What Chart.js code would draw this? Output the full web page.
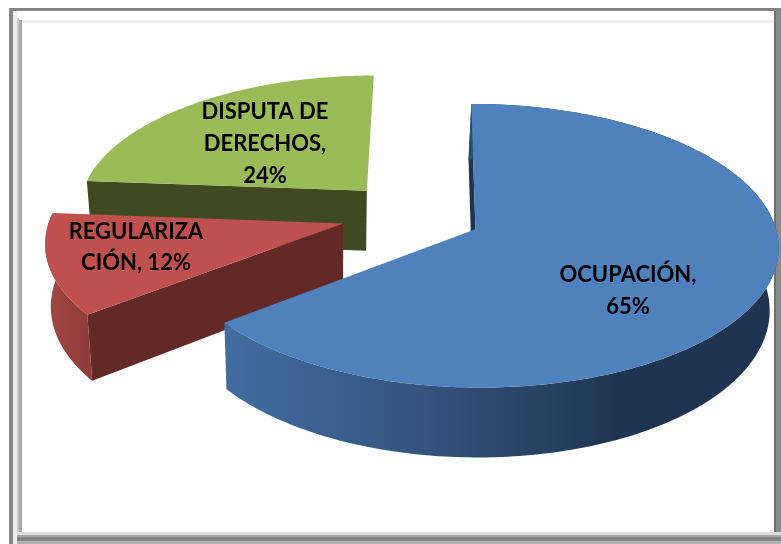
<!DOCTYPE html>
<html>
<head>
<meta charset="utf-8">
<style>
  html, body { margin: 0; padding: 0; background: #fff; }
  #wrap { width: 781px; height: 544px; }
</style>
<script src="https://cdn.jsdelivr.net/npm/chart.js@4"></script>
</head>
<body>
<div id="wrap"><canvas id="chart" width="781" height="544"></canvas></div>
<script>
const categories = ['OCUPACIÓN', 'REGULARIZACIÓN', 'DISPUTA DE DERECHOS'];
const values = [65, 12, 24];
const labelLines = [
    ['OCUPACIÓN,', '65%'],
    ['REGULARIZA', 'CIÓN, 12%'],
    ['DISPUTA DE', 'DERECHOS,', '24%']
];

const topColors = ['#4f81bd', '#c0504d', '#9bbb59'];
const cutColors = ['#1f3450', '#632927', '#3f4a22'];
// green's outer wall faces away from the viewer, so it has no stops
const rimStops = [
    [[228, '#426c9f'], [420, '#33557f'], [620, '#1f3450'], [778, '#1f3450']],
    [[45, '#a24644'], [95, '#8e3b39']],
    null
];
// the pie is seen from above, so each slice gets a small radius trim and nudge, and a fixed label spot
const radiusTrim = [0.99, 0.975, 0.965];
const sliceNudge = [[0, -2], [-1, -3], [1, -3]];
const labelSpots = [[628, 275, 32], [136, 232, 31], [265, 112, 32]];
const view = { vx: 436, vy: 217, ex: -24, dist: 2579, squash: 0.46, depth: 61, depthX: 330, depthK: 0.98 };

function project(X, Y, nudge) {
    const t = view.dist / (view.dist + Y);
    return { x: view.vx + (X + view.ex) * t + nudge[0], y: view.vy - view.squash * Y * t + nudge[1], t };
}

function drop(p) {
    return { x: view.depthX + (p.x - view.depthX) * view.depthK, y: p.y + view.depth * p.t };
}

function fillPoly(ctx, pts, fill) {
    ctx.beginPath();
    pts.forEach((p, i) => (i ? ctx.lineTo(p.x, p.y) : ctx.moveTo(p.x, p.y)));
    ctx.closePath();
    ctx.fillStyle = fill;
    ctx.fill();
}

function drawSlice(ctx, arc, i) {
    const start = arc.startAngle + Math.PI / 2;
    const end = arc.endAngle + Math.PI / 2;
    const mid = (start + end) / 2;
    const off = arc.options.offset / 4;
    const cX = Math.sin(mid) * off;
    const cY = Math.cos(mid) * off;
    const r = arc.outerRadius * radiusTrim[i];
    const nudge = sliceNudge[i];

    const steps = Math.ceil((end - start) / (Math.PI / 180));
    const rim = [];
    for (let s = 0; s <= steps; s++) {
        const a = start + (end - start) * s / steps;
        rim.push(project(cX + Math.sin(a) * r, cY + Math.cos(a) * r, nudge));
    }
    const apex = project(cX, cY, nudge);
    const rimLow = rim.map(drop);
    const apexLow = drop(apex);

    // only the leading cut face ever shows, then the outer wall, the top goes over both
    fillPoly(ctx, [apex, rim[0], rimLow[0], apexLow], cutColors[i]);

    const stops = rimStops[i];
    if (stops) {
        const x0 = stops[0][0];
        const x1 = stops[stops.length - 1][0];
        const grad = ctx.createLinearGradient(x0, 0, x1, 0);
        stops.forEach(st => grad.addColorStop((st[0] - x0) / (x1 - x0), st[1]));
        fillPoly(ctx, rim.concat(rimLow.slice().reverse()), grad);
    }

    fillPoly(ctx, [apex].concat(rim), arc.options.backgroundColor);
}

const framePlugin = {
    id: 'frame',
    beforeDraw(chart) {
        const ctx = chart.ctx;
        const W = chart.width;
        const H = chart.height;
        const bands = [
            [9, 8, W - 9, 3, '#858585'],
            [9, 8, 4, H - 8, '#858585'],
            [13, 11, 4, H - 11, '#efefef'],
            [17, 18, 2, H - 18, '#c8c8c8'],
            [19, 20, 3, H - 20, '#a8a8a8'],
            [22, 20, W - 22, 3, '#f0f0f0'],
            [774, 11, 2, H - 11, '#6f6f6f'],
            [776, 11, 5, H - 11, '#8a8a8a'],
            [17, 532, W - 17, 3, '#dddddd'],
            [17, 535, W - 17, 2, '#a8a8a8'],
            [17, 537, W - 17, 4, '#858585'],
            [17, 541, W - 17, 3, '#b0b0b0']
        ];
        bands.forEach(b => {
            ctx.fillStyle = b[4];
            ctx.fillRect(b[0], b[1], b[2], b[3]);
        });
    }
};

const pie3dPlugin = {
    id: 'pie3d',
    beforeDatasetDraw(chart, args) {
        const arcs = args.meta.data;
        const ctx = chart.ctx;
        ctx.save();
        // back to front
        [2, 1, 0].forEach(i => drawSlice(ctx, arcs[i], i));
        ctx.restore();
        return false;
    },
    afterDatasetsDraw(chart) {
        const ctx = chart.ctx;
        ctx.save();
        ctx.font = '700 22px Lato';
        ctx.fillStyle = '#000';
        ctx.textAlign = 'center';
        ctx.textBaseline = 'middle';
        labelLines.forEach((lines, i) => {
            const spot = labelSpots[i];
            lines.forEach((line, n) => ctx.fillText(line, spot[0], spot[1] + n * spot[2]));
        });
        ctx.restore();
    }
};

new Chart(document.getElementById('chart'), {
    type: 'pie',
    data: {
        labels: categories,
        datasets: [{
            data: values,
            backgroundColor: topColors,
            borderWidth: 0,
            offset: 280
        }]
    },
    options: {
        responsive: false,
        animation: false,
        events: [],
        radius: 300,
        plugins: {
            legend: { display: false },
            tooltip: { enabled: false }
        }
    },
    plugins: [framePlugin, pie3dPlugin]
});
</script>
</body>
</html>
